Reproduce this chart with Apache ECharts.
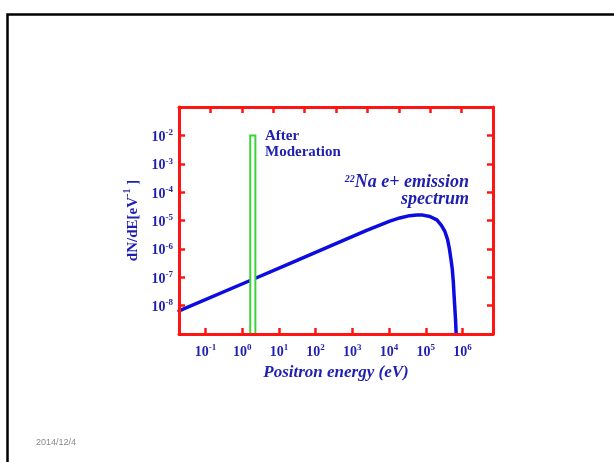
<!DOCTYPE html>
<html>
<head>
<meta charset="utf-8">
<script src="https://cdn.jsdelivr.net/npm/echarts@6/dist/echarts.min.js"></script>
<style>
  html, body { margin: 0; padding: 0; background: #ffffff; }
  #chart { width: 614px; height: 462px; }
</style>
</head>
<body>
<div id="chart"></div>
<script>
// 22Na positron emission spectrum (eV, eV^-1)
const energyEV = [0.0191, 1.78, 19.5, 214, 2450, 5620, 10500, 19500, 36300, 57500, 83200, 129000, 200000,
                  263000, 331000, 389000, 437000, 479000, 525000, 562000, 589000, 646000, 676000];
const density = [6.5e-9, 8.0e-8, 3.0e-7, 1.15e-6, 4.5e-6, 6.9e-6, 9.5e-6, 1.23e-5, 1.48e-5, 1.55e-5, 1.55e-5, 1.38e-5, 1.05e-5,
                 6.9e-6, 4.1e-6, 2.2e-6, 1.05e-6, 4.8e-7, 2.0e-7, 6.8e-8, 2.3e-8, 3.1e-9, 8e-10];

// moderated positrons: narrow energy window
const moderatedRange = [1.66, 2.29];
const moderatedPeak = 1e-2;

// decade exponents that get a tick label
const xTickExponents = [-1, 0, 1, 2, 3, 4, 5, 6];
const yTickExponents = [-8, -7, -6, -5, -4, -3, -2];

const BLUE_TEXT = '#1f1fb0';
const RED = '#ff1414';
const SERIF = '"Liberation Serif", "DejaVu Serif", serif';

const powRich = {
  b: { fontFamily: SERIF, fontWeight: 'bold', fontSize: 14, color: BLUE_TEXT, lineHeight: 18, verticalAlign: 'bottom' },
  s: { fontFamily: SERIF, fontWeight: 'bold', fontSize: 9, color: BLUE_TEXT, lineHeight: 18, verticalAlign: 'top', padding: [2, 0, 0, 0] }
};
function powLabel(list) {
  return function (v) {
    const n = Math.round(v);
    if (Math.abs(v - n) > 1e-6 || list.indexOf(n) < 0) return '';
    return '{b|10}{s|' + n + '}';
  };
}

const lineData = energyEV.map((e, i) => [Math.log10(e), Math.log10(density[i])]);
const boxData = [[Math.log10(moderatedRange[0]), Math.log10(moderatedRange[1]), Math.log10(moderatedPeak)]];

const frameTick = { show: true, inside: true, length: 6, lineStyle: { color: RED, width: 2.5 } };
const frameLine = { show: true, onZero: false, lineStyle: { color: RED, width: 3 } };

const chart = echarts.init(document.getElementById('chart'), null, { renderer: 'canvas' });
chart.setOption({
  backgroundColor: '#ffffff',
  animation: false,
  grid: { left: 179, top: 107, right: 121, bottom: 128, containLabel: false },
  xAxis: [
    {
      type: 'value', position: 'bottom', min: -1.72, max: 6.83, z: 10,
      axisLine: frameLine,
      axisTick: Object.assign({ customValues: xTickExponents }, frameTick),
      splitLine: { show: false },
      axisLabel: { margin: 7, customValues: xTickExponents, formatter: powLabel(xTickExponents), rich: powRich },
      name: 'Positron energy (eV)', nameLocation: 'middle', nameGap: 30,
      nameTextStyle: { fontFamily: SERIF, fontWeight: 'bold', fontStyle: 'italic', fontSize: 17, color: BLUE_TEXT }
    },
    {
      type: 'value', position: 'top', min: -1, max: 9, interval: 1, z: 10,
      axisLine: frameLine, axisTick: frameTick, splitLine: { show: false }, axisLabel: { show: false }
    }
  ],
  yAxis: [
    {
      type: 'value', position: 'left', min: -9, max: -1, interval: 1, z: 10,
      axisLine: frameLine, axisTick: frameTick, splitLine: { show: false },
      axisLabel: { margin: 6, formatter: powLabel(yTickExponents), rich: powRich, showMinLabel: false, showMaxLabel: false },
      name: '{n|dN/dE[eV}{s|-1}{n| ]}', nameLocation: 'middle', nameGap: 38, nameRotate: 90,
      nameTextStyle: {
        rich: {
          n: { fontFamily: SERIF, fontWeight: 'bold', fontSize: 15, color: BLUE_TEXT, lineHeight: 18, verticalAlign: 'bottom' },
          s: { fontFamily: SERIF, fontWeight: 'bold', fontSize: 10, color: BLUE_TEXT, lineHeight: 18, verticalAlign: 'top' }
        }
      }
    },
    {
      type: 'value', position: 'right', min: -9, max: -1, interval: 1, z: 10,
      axisLine: frameLine, axisTick: frameTick, splitLine: { show: false }, axisLabel: { show: false }
    }
  ],
  series: [
    {
      type: 'line', xAxisIndex: 0, yAxisIndex: 0, data: lineData,
      showSymbol: false, smooth: false, clip: true, z: 2,
      lineStyle: { color: '#0c0ce0', width: 3.5, join: 'round', cap: 'round' }
    },
    {
      type: 'custom', xAxisIndex: 0, yAxisIndex: 0, data: boxData, z: 3,
      renderItem: function (params, api) {
        const p0 = api.coord([api.value(0), -9]);
        const p1 = api.coord([api.value(1), api.value(2)]);
        return {
          type: 'rect',
          shape: { x: p0[0], y: p1[1], width: p1[0] - p0[0], height: p0[1] - p1[1] },
          style: { fill: '#ffffff', stroke: '#3ad43a', lineWidth: 2 }
        };
      }
    }
  ],
  graphic: [
    {
      type: 'rect', z: 0, silent: true,
      shape: { x: 7.5, y: 14.5, width: 700, height: 600 },
      style: { fill: 'none', stroke: '#000000', lineWidth: 2.5 }
    },
    {
      type: 'text', left: 265, top: 128, z: 20,
      style: { text: 'After\nModeration', font: 'bold 15px ' + SERIF, fill: BLUE_TEXT, lineHeight: 16 }
    },
    {
      type: 'text', z: 20, x: 469, y: 174,
      style: {
        text: '{s|22}{t|Na e+ emission}\n{t|spectrum}', align: 'right',
        rich: {
          t: { font: 'bold italic 18px ' + SERIF, fill: BLUE_TEXT, lineHeight: 17, verticalAlign: 'bottom', align: 'right' },
          s: { font: 'bold italic 10px ' + SERIF, fill: BLUE_TEXT, lineHeight: 17, verticalAlign: 'top' }
        }
      }
    },
    {
      type: 'text', left: 36, top: 438, z: 20,
      style: { text: '2014/12/4', font: '9px "Liberation Sans", Arial, sans-serif', fill: '#8a8a8a' }
    }
  ]
});
</script>
</body>
</html>
